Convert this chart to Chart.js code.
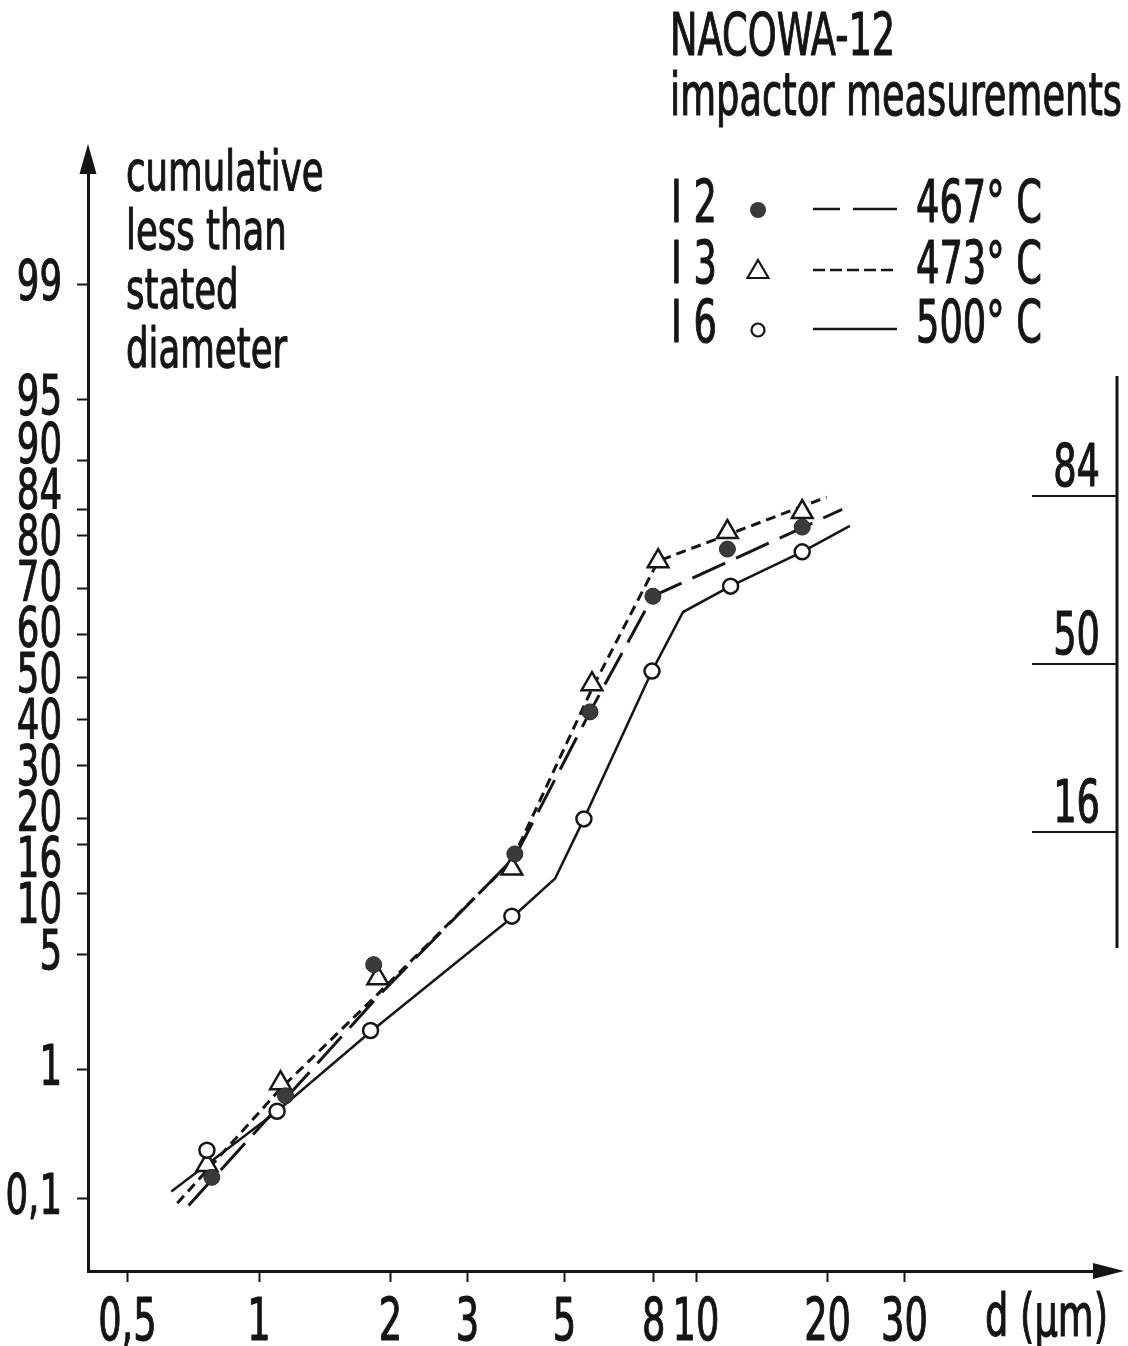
<!DOCTYPE html>
<html>
<head>
<meta charset="utf-8">
<script src="https://cdn.jsdelivr.net/npm/chart.js@4.4.1/dist/chart.umd.min.js"></script>
<style>
html,body{margin:0;padding:0;background:#fff;}
#wrap{width:1128px;height:1346px;}
canvas{display:block;}
</style>
</head>
<body>
<div id="wrap"><canvas id="c" width="1128" height="1346" style="width:1128px;height:1346px"></canvas></div>
<script>
// ---------- data ----------
const yTickPercents = [99, 95, 90, 84, 80, 70, 60, 50, 40, 30, 20, 16, 10, 5, 1, 0.1];
const yTickLabels   = ['99','95','90','84','80','70','60','50','40','30','20','16','10','5','1','0,1'];
const xTickValues   = [0.5, 1, 2, 3, 5, 8, 10, 20, 30];
const xTickLabels   = ['0,5','1','2','3','5','8','10','20','30'];

// measured points: diameter (µm) and cumulative % less than stated diameter
const i2Diam = [0.78, 1.15, 1.83, 3.85, 5.72, 7.97, 11.8, 17.5];
const i2Pct  = [0.15, 0.65, 4.4, 14.7, 41.8, 68.4, 77.6, 81.3];
const i3Diam = [0.76, 1.12, 1.87, 3.79, 5.78, 8.19, 11.8, 17.5];
const i3Pct  = [0.19, 0.80, 3.7, 12.8, 48.3, 75.4, 80.5, 83.6];
const i6Diam = [0.76, 1.10, 1.80, 3.79, 5.54, 7.93, 12.0, 17.5];
const i6Pct  = [0.25, 0.50, 1.8, 7.8, 20.0, 51.4, 70.5, 77.1];

// hand-drawn fitted curves
const i2LineDiam = [0.69, 1.15, 1.87, 3.85, 5.72, 7.97, 21.6];
const i2LinePct  = [0.086, 0.62, 2.9, 14.3, 41.8, 68.4, 84.0];
const i3LineDiam = [0.65, 1.12, 1.87, 3.79, 5.78, 8.19, 19.9];
const i3LinePct  = [0.090, 0.73, 3.0, 13.8, 47.2, 75.4, 85.7];
const i6LineDiam = [0.63, 1.10, 1.80, 3.81, 4.76, 5.54, 7.93, 9.34, 12.0, 17.5, 22.5];
const i6LinePct  = [0.114, 0.50, 1.77, 7.75, 11.6, 20.0, 51.4, 65.0, 70.5, 77.1, 81.5];

// legend and annotation texts
const titleLines   = ['NACOWA-12', 'impactor measurements'];
const yTitleLines  = ['cumulative', 'less than', 'stated', 'diameter'];
const legendIds    = ['I 2', 'I 3', 'I 6'];
const legendTemps  = ['467° C', '473° C', '500° C'];
const rulerPercents = [84, 50, 16];
const rulerLabels   = ['84', '50', '16'];
const xUnitLabel = 'd (μm)';

// ---------- helpers ----------
const INK = '#151515';
const FONT = "'Liberation Sans Narrow','DejaVu Sans Condensed','Roboto Condensed','Liberation Sans',Arial,sans-serif";

function probit(p){
  const a=[-3.969683028665376e+01,2.209460984245205e+02,-2.759285104469687e+02,1.383577518672690e+02,-3.066479806614716e+01,2.506628277459239e+00];
  const b=[-5.447609879822406e+01,1.615858368580409e+02,-1.556989798598866e+02,6.680131188771972e+01,-1.328068155288572e+01];
  const c=[-7.784894002430293e-03,-3.223964580411365e-01,-2.400758277161838e+00,-2.549732539343734e+00,4.374664141464968e+00,2.938163982698783e+00];
  const d=[7.784695709041462e-03,3.224671290700398e-01,2.445134137142996e+00,3.754408661907416e+00];
  const pl=0.02425, ph=1-pl; let q, r;
  if (p < pl){ q=Math.sqrt(-2*Math.log(p)); return (((((c[0]*q+c[1])*q+c[2])*q+c[3])*q+c[4])*q+c[5])/((((d[0]*q+d[1])*q+d[2])*q+d[3])*q+1); }
  if (p <= ph){ q=p-0.5; r=q*q; return (((((a[0]*r+a[1])*r+a[2])*r+a[3])*r+a[4])*r+a[5])*q/(((((b[0]*r+b[1])*r+b[2])*r+b[3])*r+b[4])*r+1); }
  q=Math.sqrt(-2*Math.log(1-p)); return -(((((c[0]*q+c[1])*q+c[2])*q+c[3])*q+c[4])*q+c[5])/((((d[0]*q+d[1])*q+d[2])*q+d[3])*q+1);
}
const toPts = (xs, ps) => xs.map((x, i) => ({x: x, y: probit(ps[i] / 100)}));

// spread crowded label positions apart (keeps each crowded group centred on its ticks)
function spreadLabels(pos, gap){
  const cl = [];
  pos.forEach(p => {
    cl.push({n: 1, sum: p});
    while (cl.length > 1){
      const b = cl[cl.length - 1], a = cl[cl.length - 2];
      const aEnd = a.sum / a.n + (a.n - 1) * gap;
      if (b.sum / b.n - aEnd < gap){ a.sum += b.sum - b.n * a.n * gap; a.n += b.n; cl.pop(); }
      else break;
    }
  });
  const out = [];
  cl.forEach(c => { const t = c.sum / c.n; for (let k = 0; k < c.n; k++) out.push(t + k * gap); });
  return out;
}

const DASH_I2 = [36, 12];
const DASH_I3 = [10, 6];

// ---------- condensed lettering (the original uses a narrow grotesque) ----------
const canvas = document.getElementById('c');
const ctx0 = canvas.getContext('2d');
ctx0.font = 'normal 58px ' + FONT;
const SX = Math.min(1, 452 / ctx0.measureText(titleLines[1]).width);
const origFill = CanvasRenderingContext2D.prototype.fillText;
ctx0.fillText = function(t, x, y){
  this.save();
  this.translate(x, y);
  this.scale(SX, 1);
  origFill.call(this, t, 0, 0);
  this.lineWidth = 1.1;
  this.strokeStyle = this.fillStyle;
  this.lineJoin = 'round';
  this.strokeText(t, 0, 0);
  this.restore();
};

function ctext(ctx, s, x, y, size, align, baseline){
  ctx.save();
  ctx.font = 'normal ' + size + 'px ' + FONT;
  ctx.textBaseline = baseline || 'alphabetic';
  ctx.textAlign = align || 'left';
  ctx.fillStyle = INK;
  ctx.fillText(s, x, y);
  ctx.restore();
}

// ---------- decoration plugin ----------
const deco = {
  id: 'deco',
  afterDraw(chart){
    const {ctx, chartArea: ca, scales: {y}} = chart;
    ctx.save();
    ctx.fillStyle = INK; ctx.strokeStyle = INK;

    // y tick labels (typeset like the original: crowded labels pushed apart)
    const tickPix = y.ticks.map(t => y.getPixelForValue(t.value));
    const order = tickPix.map((p, i) => i).sort((a, b) => tickPix[a] - tickPix[b]);
    const spread = spreadLabels(order.map(i => tickPix[i]), 46);
    order.forEach((i, k) => ctext(ctx, y.ticks[i].label, ca.left - 26, spread[k], 56, 'right', 'middle'));

    // axis arrows
    ctx.beginPath();
    ctx.moveTo(ca.left, ca.top - 28); ctx.lineTo(ca.left - 8.5, ca.top + 2); ctx.lineTo(ca.left + 8.5, ca.top + 2);
    ctx.closePath(); ctx.fill();
    ctx.beginPath();
    ctx.moveTo(ca.right + 29, ca.bottom); ctx.lineTo(ca.right - 2, ca.bottom - 8); ctx.lineTo(ca.right - 2, ca.bottom + 8);
    ctx.closePath(); ctx.fill();

    // y-axis title
    yTitleLines.forEach((s, i) => ctext(ctx, s, ca.left + 38, 190 + i * 59, 56, 'left'));
    // title
    titleLines.forEach((s, i) => ctext(ctx, s, 670, 55 + i * 60, 58, 'left'));

    // legend
    const rowBase = [222, 283, 342];
    legendIds.forEach((s, i) => {
      const b = rowBase[i];
      ctext(ctx, s, 671, b, 58, 'left');
      ctext(ctx, legendTemps[i], 916, b, 58, 'left');
      const my = b - 12;
      ctx.save();
      if (i === 0){
        ctx.fillStyle = '#3a3a3a';
        ctx.beginPath(); ctx.arc(758, my, 8, 0, Math.PI * 2); ctx.fill();
        ctx.setLineDash([27, 13, 60]);
      } else if (i === 1){
        ctx.lineWidth = 2.2;
        ctx.beginPath(); ctx.moveTo(758, my - 11); ctx.lineTo(768.5, my + 7); ctx.lineTo(747.5, my + 7); ctx.closePath(); ctx.stroke();
        ctx.setLineDash([12, 5]);
      } else {
        ctx.lineWidth = 2.2;
        ctx.beginPath(); ctx.arc(758, my, 6.5, 0, Math.PI * 2); ctx.stroke();
        ctx.setLineDash([]);
      }
      ctx.lineWidth = 2.5;
      ctx.beginPath(); ctx.moveTo(813, b - 13); ctx.lineTo(897, b - 13); ctx.stroke();
      ctx.restore();
    });

    // sigma ruler on the right
    const ry = rulerPercents.map(p => Math.round(y.getPixelForValue(probit(p / 100))) - 13);
    const rx = ca.right + 22;
    ctx.lineWidth = 3;
    ctx.beginPath(); ctx.moveTo(rx, ry[0] - 120); ctx.lineTo(rx, ry[2] + 116); ctx.stroke();
    ctx.lineWidth = 2;
    ry.forEach((yy, i) => {
      ctx.beginPath(); ctx.moveTo(rx - 85, yy); ctx.lineTo(rx, yy); ctx.stroke();
      ctext(ctx, rulerLabels[i], rx - 17, yy - 10, 58, 'right');
    });

    // x unit label
    ctext(ctx, xUnitLabel, 985, 1336, 58, 'left');
    ctx.restore();
  }
};

// ---------- chart ----------
const Y_TOP = 172, Y_BOTTOM = 1271, Y_CENTER = 677, Y_SIGMA = 168.6;
const X_LEFT = 88, X_RIGHT = 1095, X_ONE = 259, X_DECADE = 437;

const tickFont = {family: FONT, size: 58, weight: 'normal'};

new Chart(canvas, {
  type: 'scatter',
  data: {
    datasets: [
      {label: 'I 2', data: toPts(i2Diam, i2Pct), pointStyle: 'circle', pointRadius: 8, backgroundColor: '#3a3a3a', borderColor: '#2a2a2a', borderWidth: 1, order: 0},
      {label: 'I 6', data: toPts(i6Diam, i6Pct), pointStyle: 'circle', pointRadius: 7.5, backgroundColor: '#fff', borderColor: INK, borderWidth: 2.5, order: 1},
      {label: 'I 3', data: toPts(i3Diam, i3Pct), pointStyle: 'triangle', pointRadius: 12, backgroundColor: '#fff', borderColor: INK, borderWidth: 2.5, order: 2},
      {label: '467° C', data: toPts(i2LineDiam, i2LinePct), showLine: true, borderColor: INK, borderWidth: 3, borderDash: DASH_I2, pointRadius: 0, fill: false, tension: 0, order: 3},
      {label: '473° C', data: toPts(i3LineDiam, i3LinePct), showLine: true, borderColor: INK, borderWidth: 3, borderDash: DASH_I3, pointRadius: 0, fill: false, tension: 0, order: 4},
      {label: '500° C', data: toPts(i6LineDiam, i6LinePct), showLine: true, borderColor: INK, borderWidth: 2.5, pointRadius: 0, fill: false, tension: 0, order: 5}
    ]
  },
  options: {
    responsive: false,
    animation: false,
    devicePixelRatio: 1,
    layout: {padding: {top: Y_TOP, right: 1128 - X_RIGHT, left: 0, bottom: 0}},
    plugins: {legend: {display: false}, tooltip: {enabled: false}, title: {display: false}},
    scales: {
      x: {
        type: 'logarithmic',
        min: Math.pow(10, (X_LEFT - X_ONE) / X_DECADE),
        max: Math.pow(10, (X_RIGHT - X_ONE) / X_DECADE),
        afterBuildTicks: (s) => { s.ticks = xTickValues.map(v => ({value: v})); },
        afterFit: (s) => { s.height = 1346 - Y_BOTTOM; },
        ticks: {autoSkip: false, maxRotation: 0, minRotation: 0, color: INK, font: tickFont, padding: 8,
                callback: (v, i) => xTickLabels[i]},
        grid: {display: true, drawOnChartArea: false, drawTicks: true, tickLength: 11, tickWidth: 2, color: INK, tickColor: INK},
        border: {display: true, color: INK, width: 3}
      },
      y: {
        type: 'linear',
        min: (Y_CENTER - Y_BOTTOM) / Y_SIGMA,
        max: (Y_CENTER - Y_TOP) / Y_SIGMA,
        afterBuildTicks: (s) => { s.ticks = yTickPercents.map(p => ({value: probit(p / 100)})); },
        afterFit: (s) => { s.width = X_LEFT; },
        ticks: {display: false, autoSkip: false, color: INK, font: tickFont, padding: 15,
                callback: (v, i) => yTickLabels[i]},
        grid: {display: true, drawOnChartArea: false, drawTicks: true, tickLength: 11, tickWidth: 2, color: INK, tickColor: INK},
        border: {display: true, color: INK, width: 3}
      }
    }
  },
  plugins: [deco]
});
</script>
</body>
</html>
